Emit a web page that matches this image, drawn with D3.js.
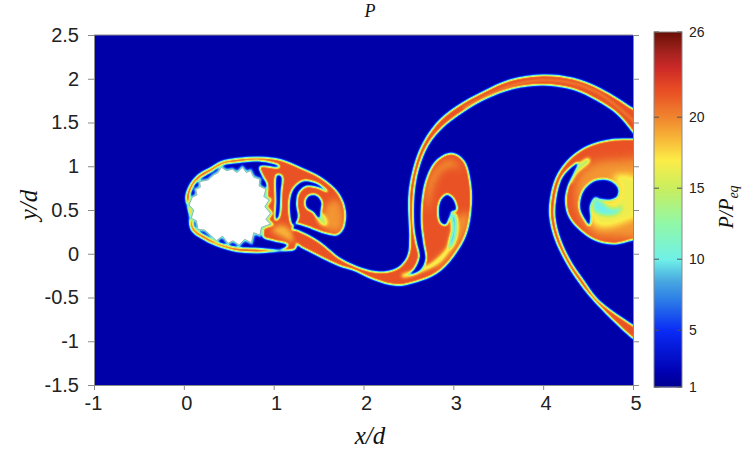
<!DOCTYPE html>
<html>
<head>
<meta charset="utf-8">
<script src="https://cdnjs.cloudflare.com/ajax/libs/d3/7.8.5/d3.min.js"></script>
<style>
html, body { margin: 0; padding: 0; background: #fff; }
svg { display: block; }
text { font-family: "Liberation Sans", Arial, sans-serif; fill: #222; }
.serif { font-family: "Liberation Serif", "Times New Roman", serif; font-style: italic; fill: #111; }
</style>
</head>
<body>
<script>
// ticks
var xTicks = [-1, 0, 1, 2, 3, 4, 5];
var yTicks = [-1.5, -1, -0.5, 0, 0.5, 1, 1.5, 2, 2.5];
var barTicks = [1, 5, 10, 15, 20, 26];

// colour bar
var barStops = [1, 2, 5, 7, 8.5, 10, 12.5, 15, 17, 18.5, 20, 22, 23.5, 24.5, 26];
var barColors = ['#00008f', '#0000b0', '#0a2cf5', '#2a78e8', '#48a8e0', '#70f0e8', '#90f8a8', '#c8ee60',
  '#fcec48', '#f8b838', '#f0852f', '#e84c24', '#cc2a28', '#a82420', '#6a1006'];

// P/Peq levels of the flow regions
var freeStream = 1.8;
var shocked = 21.8;
var paler = 19.5;
var pale = 18.5;
var yellow = 16.5;
var streak = 16;
var spot = 14;
var fringe = 11;
var cyan = 10;
var core = 8;
var cavity = 2;

// outlines of the flow regions, in x/d, y/d
var wakeAndArc = [[1.209,0.272],[1.476,0.157],[1.736,-0.052],[1.884,-0.129],[2.07,-0.193],[2.256,-0.205],[2.404,-0.148],
  [2.497,-0.014],[2.516,0.195],[2.504,0.5],[2.516,0.767],[2.627,1.186],[2.812,1.49],[3.035,1.681],[3.332,1.852],
  [3.629,1.986],[4.0,2.043],[4.334,2.005],[4.631,1.89],[4.995,1.662],[5.1,1.59],[5.1,1.25],[4.995,1.395],[4.817,1.605],
  [4.594,1.757],[4.334,1.879],[4.0,1.929],[3.666,1.89],[3.369,1.776],[3.109,1.624],[2.887,1.452],[2.72,1.243],
  [2.608,0.957],[2.56,0.652],[2.56,0.31],[2.59,0.119],[2.62,-0.033],[2.56,-0.178],[2.497,-0.243],[2.627,-0.197],
  [2.694,-0.071],[2.671,0.119],[2.645,0.348],[2.657,0.652],[2.709,0.881],[2.812,1.064],[2.979,1.148],[3.117,1.064],
  [3.191,0.805],[3.195,0.5],[3.139,0.214],[2.998,-0.033],[2.812,-0.224],[2.59,-0.319],[2.367,-0.361],[2.107,-0.292],
  [1.884,-0.186],[1.736,-0.14],[1.439,0.005],[1.257,0.119]];
var nearWake = [[0.021,0.645],[0.066,0.786],[0.158,0.9],[0.288,0.976],[0.418,1.053],[0.622,1.091],[0.845,1.102],[1.09,1.072],
  [1.313,0.976],[1.536,0.862],[1.721,0.691],[1.796,0.5],[1.777,0.291],[1.703,0.214],[1.573,0.233],[1.35,0.317],
  [1.239,0.34],[1.209,0.272],[1.257,0.119],[1.239,0.054],[1.068,0.031],[0.808,0.012],[0.548,0.035],[0.362,0.093],
  [0.233,0.157],[0.084,0.272],[0.058,0.462]];
var bodyCavity = [[0.066,0.634],[0.103,0.767],[0.185,0.862],[0.307,0.938],[0.43,1.014],[0.622,1.045],[0.845,1.06],[1.053,1.011],
  [1.06,0.988],[0.845,0.995],[0.882,0.881],[0.923,0.805],[0.923,0.614],[0.923,0.424],[0.886,0.291],[0.886,0.188],
  [1.0,0.15],[1.157,0.104],[1.09,0.05],[0.867,0.058],[0.548,0.081],[0.362,0.138],[0.244,0.203],[0.121,0.291],[0.095,0.462]];
var spiralBand = [[1.209,0.329],[1.172,0.538],[1.209,0.729],[1.332,0.835],[1.48,0.805],[1.599,0.71],[1.48,0.759],[1.35,0.767],
  [1.276,0.691],[1.257,0.557],[1.276,0.424],[1.239,0.34]];
var spiralHole = [[1.35,0.595],[1.387,0.664],[1.473,0.672],[1.536,0.595],[1.528,0.5],[1.506,0.405],[1.432,0.481],[1.369,0.519]];
var wakeSlit = [[1.034,0.9],[1.09,0.889],[1.083,0.691],[1.061,0.424],[1.023,0.386],[1.023,0.614]];
var lobeStreak = [[1.573,0.538],[1.703,0.614],[1.777,0.424],[1.74,0.252],[1.573,0.291]];
var lobeSpot = [[1.48,0.462],[1.554,0.443],[1.591,0.329],[1.517,0.348]];
var lowerLobe = [[0.979,0.272],[1.09,0.329],[1.183,0.272],[1.22,0.138],[1.09,0.195]];

var ovalTop = [[2.709,0.786],[2.812,0.976],[2.961,1.071],[3.091,0.976],[3.017,0.995],[2.887,0.957],[2.776,0.767],[2.72,0.5]];
var ovalLower = [[3.054,0.424],[3.165,0.462],[3.128,0.233],[2.98,-0.015],[2.775,-0.186],[2.812,-0.072],[2.961,0.081]];
var ovalStreak = [[2.968,0.469],[3.017,0.469],[3.05,0.347],[3.03,0.157],[2.955,0.03],[2.84,-0.105],[2.683,-0.195],[2.441,-0.27],
  [2.423,-0.243],[2.65,-0.16],[2.8,-0.07],[2.925,0.07],[2.985,0.25]];
var ovalCore = [[2.98,0.462],[3.017,0.443],[3.035,0.309],[3.005,0.138],[2.961,0.062],[2.954,0.119],[2.991,0.29]];
var ovalHole = [[2.831,0.481],[2.857,0.614],[2.931,0.679],[3.005,0.622],[3.035,0.5],[2.98,0.481],[2.954,0.405],[2.916,0.328],[2.857,0.355]];

var vortexBlob = [[5.1,1.311],[4.995,1.311],[4.743,1.3],[4.501,1.231],[4.297,1.09],[4.149,0.881],[4.082,0.633],[4.074,0.424],
  [4.13,0.176],[4.242,-0.071],[4.409,-0.338],[4.576,-0.548],[4.995,-0.963],[5.1,-1.03],[5.1,-0.88],[4.995,-0.814],
  [4.613,-0.529],[4.446,-0.3],[4.297,-0.071],[4.186,0.176],[4.13,0.424],[4.141,0.633],[4.204,0.862],[4.297,0.976],
  [4.39,1.041],[4.342,0.919],[4.275,0.767],[4.249,0.614],[4.279,0.443],[4.379,0.302],[4.557,0.165],[4.78,0.111],
  [4.995,0.157],[5.1,0.18]];
var vortexRing = [[4.41,0.424],[4.354,0.653],[4.391,0.881],[4.558,1.034],[4.781,1.072],[5.2,1.034],[5.2,0.215],[4.781,0.188],[4.577,0.215]];
var vortexYellow = [[4.54,0.519],[4.577,0.645],[4.725,0.595],[4.826,0.645],[4.855,0.748],[4.781,0.881],[4.967,0.9],[5.2,0.767],
  [5.2,0.538],[4.855,0.34],[4.651,0.302],[4.558,0.348]];
var vortexCyan = [[4.577,0.634],[4.651,0.595],[4.725,0.53],[4.82,0.51],[4.88,0.55],[4.83,0.465],[4.725,0.44],[4.62,0.46],[4.56,0.5]];
var vortexHole = [[4.41,0.615],[4.465,0.748],[4.595,0.843],[4.744,0.836],[4.837,0.748],[4.826,0.653],[4.744,0.615],[4.651,0.622],
  [4.577,0.645],[4.521,0.538],[4.529,0.424],[4.514,0.325],[4.465,0.386],[4.41,0.5]];
var vortexTip = [[4.269,0.881],[4.336,0.977],[4.503,1.091],[4.521,1.064],[4.373,0.919],[4.298,0.805]];

var arcStripe = [[3.109,1.662],[3.369,1.803],[3.666,1.929],[4.0,1.986],[4.334,1.948],[4.631,1.826],[4.995,1.529],[5.1,1.42]];

var cylinder = [[0.095,0.645],[0.147,0.672],[0.133,0.736],[0.184,0.759],[0.177,0.824],[0.27,0.843],[0.333,0.9],[0.381,0.927],
  [0.418,0.988],[0.474,0.95],[0.541,0.965],[0.593,0.927],[0.652,0.988],[0.697,0.927],[0.741,0.95],[0.778,0.874],[0.845,0.851],
  [0.838,0.775],[0.912,0.736],[0.89,0.653],[0.949,0.615],[0.901,0.538],[0.964,0.462],[0.912,0.393],[0.964,0.34],[0.864,0.302],
  [0.845,0.214],[0.778,0.241],[0.752,0.127],[0.678,0.165],[0.615,0.1],[0.548,0.15],[0.493,0.119],[0.43,0.203],[0.363,0.15],
  [0.296,0.214],[0.233,0.272],[0.158,0.279],[0.14,0.378],[0.084,0.405],[0.11,0.5],[0.058,0.557]];

// painted in this order: outline, level, softness of the edge, region it stays inside
var regions = [
  [wakeAndArc, shocked], [nearWake, shocked], [bodyCavity, cavity], [wakeSlit, cavity + 0.5],
  [lobeStreak, paler, 3, nearWake], [lobeSpot, spot, 1.5, nearWake], [lowerLobe, pale, 2.5, nearWake],
  [spiralBand, cavity], [spiralHole, cavity],
  [ovalTop, paler, 3, wakeAndArc], [ovalLower, paler, 3, wakeAndArc], [ovalStreak, streak, 1, wakeAndArc], [ovalCore, core, 1, wakeAndArc], [ovalHole, cavity],
  [vortexBlob, shocked], [vortexRing, paler, 4, vortexBlob], [vortexYellow, yellow, 3, vortexBlob], [vortexCyan, cyan, 1.5, vortexBlob],
  [vortexTip, spot, 1, vortexBlob], [vortexHole, cavity]
];

var width = 747;
var height = 453;
var left = 94, right = 633, top_ = 35, bottom = 385;
var barLeft = 654, barRight = 682, barTop = 32, barBottom = 387;

var x = d3.scaleLinear().domain([-1, 5]).range([left, right]);
var y = d3.scaleLinear().domain([-1.5, 2.5]).range([bottom, top_]);
var barY = d3.scaleLinear().domain([1, 26]).range([barBottom, barTop]);
var color = d3.scaleLinear().domain(barStops).range(barColors).clamp(true);
var level = d3.scaleLinear().domain([1, 26]).range([0, 255]);

var svg = d3.select('body').append('svg')
  .attr('width', width)
  .attr('height', height);

// paint the levels in grey, soften them, then push every pixel through the colour bar
var pad = 12;
var fw = right - left + pad * 2, fh = bottom - top_ + pad * 2;
var raw = document.createElement('canvas');
raw.width = fw; raw.height = fh;
var rawCtx = raw.getContext('2d');
rawCtx.translate(pad - left, pad - top_);
function grey(v) { var g = Math.round(level(v)); return 'rgb(' + g + ',' + g + ',' + g + ')'; }
rawCtx.fillStyle = grey(freeStream);
rawCtx.fillRect(left - pad, top_ - pad, fw, fh);

var outline = d3.line()
  .x(function(d) { return x(d[0]); })
  .y(function(d) { return y(d[1]); })
  .curve(d3.curveCatmullRomClosed.alpha(0.5))
  .context(rawCtx);

regions.forEach(function(r) {
  rawCtx.save();
  if (r[3]) {
    rawCtx.beginPath();
    outline(r[3]);
    rawCtx.clip();
  }
  if (r[2]) rawCtx.filter = 'blur(' + r[2] + 'px)';
  rawCtx.beginPath();
  outline(r[0]);
  rawCtx.fillStyle = grey(r[1]);
  rawCtx.fill();
  rawCtx.restore();
});

// lighter stripe along the arc
rawCtx.beginPath();
d3.line().x(function(d) { return x(d[0]); }).y(function(d) { return y(d[1]); })
  .curve(d3.curveCatmullRom).context(rawCtx)(arcStripe);
rawCtx.strokeStyle = grey(paler);
rawCtx.lineWidth = 1.5;
rawCtx.stroke();

// teal fringe round the cylinder
rawCtx.beginPath();
d3.line().x(function(d) { return x(d[0]); }).y(function(d) { return y(d[1]); })
  .curve(d3.curveLinearClosed).context(rawCtx)(cylinder);
rawCtx.strokeStyle = grey(fringe);
rawCtx.lineWidth = 3.5;
rawCtx.stroke();

var soft = document.createElement('canvas');
soft.width = fw; soft.height = fh;
var softCtx = soft.getContext('2d');
softCtx.filter = 'blur(1.3px)';
softCtx.drawImage(raw, 0, 0);

var lut = d3.range(256).map(function(i) { return d3.rgb(color(level.invert(i))); });
var img = softCtx.getImageData(pad, pad, right - left, bottom - top_);
for (var i = 0; i < img.data.length; i += 4) {
  var c = lut[img.data[i]];
  img.data[i] = c.r; img.data[i + 1] = c.g; img.data[i + 2] = c.b; img.data[i + 3] = 255;
}
var out = document.createElement('canvas');
out.width = right - left; out.height = bottom - top_;
out.getContext('2d').putImageData(img, 0, 0);

svg.append('image')
  .attr('x', left).attr('y', top_)
  .attr('width', right - left).attr('height', bottom - top_)
  .attr('href', out.toDataURL());

// the cylinder itself
svg.append('path')
  .attr('d', d3.line().x(function(d) { return x(d[0]); }).y(function(d) { return y(d[1]); })
    .curve(d3.curveLinearClosed)(cylinder))
  .attr('fill', '#fff')
  .attr('stroke', '#8fa8a2')
  .attr('stroke-width', 0.8);

// axes
var tickColor = '#8a8a8a';
function styleAxis(g) {
  g.selectAll('.domain').attr('stroke', tickColor);
  g.selectAll('.tick line').attr('stroke', tickColor);
}
svg.append('g').attr('transform', 'translate(0,' + bottom + ')')
  .call(d3.axisBottom(x).tickValues(xTicks).tickSizeOuter(0).tickSize(5).tickFormat(function(d) { return String(d); }))
  .call(styleAxis)
  .call(function(g) {
    g.selectAll('text').attr('font-size', 20).attr('dx', function(d) { return d < 0 ? -1 : 2.5; }).attr('dy', 17)
      .style('font-family', 'Liberation Sans').style('fill', '#222');
  });
svg.append('g').attr('transform', 'translate(' + left + ',0)')
  .call(d3.axisLeft(y).tickValues(yTicks).tickSizeOuter(0).tickSize(6).tickFormat(function(d) { return String(d); }))
  .call(styleAxis)
  .call(function(g) {
    g.selectAll('text').attr('font-size', 20).attr('x', -15).style('font-family', 'Liberation Sans').style('fill', '#222');
  });
svg.append('g').attr('transform', 'translate(' + right + ',0)')
  .call(d3.axisRight(y).tickValues(yTicks).tickSizeOuter(0).tickSize(6).tickFormat(''))
  .call(styleAxis);
svg.append('line').attr('x1', left).attr('x2', right).attr('y1', top_).attr('y2', top_).attr('stroke', tickColor);

// titles
svg.append('text').attr('class', 'serif').attr('x', 370).attr('y', 17).attr('text-anchor', 'middle').attr('font-size', 18).text('P');
svg.append('text').attr('class', 'serif').attr('x', 370).attr('y', 444).attr('text-anchor', 'middle').attr('font-size', 25).text('x/d');
svg.append('text').attr('class', 'serif').attr('transform', 'translate(37,205) rotate(-90)').attr('text-anchor', 'middle').attr('font-size', 25).text('y/d');

// colour bar
var barSteps = d3.range(barBottom, barTop, -1);
svg.append('g').selectAll('rect')
  .data(barSteps)
  .enter().append('rect')
  .attr('x', barLeft)
  .attr('y', function(d) { return d - 1; })
  .attr('width', barRight - barLeft)
  .attr('height', 1.5)
  .attr('fill', function(d) { return color(barY.invert(d - 0.5)); });
svg.append('rect')
  .attr('x', barLeft).attr('y', barTop)
  .attr('width', barRight - barLeft).attr('height', barBottom - barTop)
  .attr('fill', 'none').attr('stroke', tickColor);
var barTick = svg.append('g').selectAll('g')
  .data(barTicks)
  .enter().append('g')
  .attr('transform', function(d) { return 'translate(0,' + barY(d) + ')'; });
barTick.append('line').attr('x1', barLeft).attr('x2', barLeft + 5).attr('stroke', '#555');
barTick.append('line').attr('x1', barRight - 5).attr('x2', barRight).attr('stroke', '#555');
barTick.append('text')
  .attr('x', 689).attr('dy', '0.36em')
  .attr('font-size', 14)
  .text(function(d) { return d; });

var barTitle = svg.append('text')
  .attr('class', 'serif')
  .attr('transform', 'translate(733,207) rotate(-90)')
  .attr('text-anchor', 'middle')
  .attr('font-size', 20);
barTitle.append('tspan').text('P/P');
barTitle.append('tspan').attr('font-size', 14).attr('dy', 5).text('eq');
</script>
</body>
</html>
